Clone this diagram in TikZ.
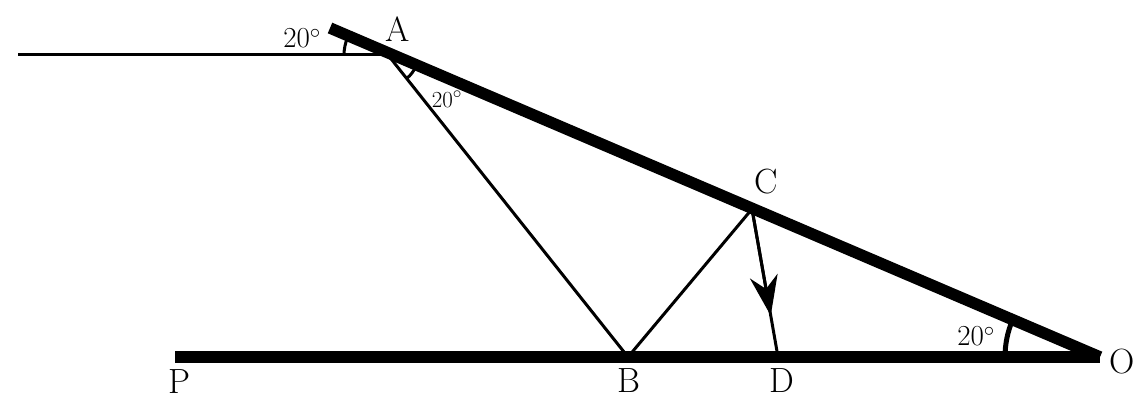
\documentclass[tikz,border=0pt]{standalone}
\usepackage{fontspec}
\usetikzlibrary{arrows.meta,calc}
\begin{document}
\begin{tikzpicture}[x=1pt,y=-1pt,
  thickline/.style={line width=11.5pt},
  thinline/.style={line width=3pt},
  lbl/.style={font=\fontsize{35}{37}\selectfont, inner sep=0pt},
  anglbl/.style={font=\fontsize{29}{31}\selectfont, inner sep=0pt},
  smallang/.style={font=\fontsize{23}{25}\selectfont, inner sep=0pt}]
\useasboundingbox (0,0) rectangle (1145,406);
\coordinate (O) at (1100,357);
\coordinate (T) at (330,28);
\coordinate (A) at (388,55);
\coordinate (L) at (18,55);
\coordinate (P) at (175,357);
\coordinate (B) at (628,357);
\coordinate (C) at (752,209);
\coordinate (D) at (778,357);
\coordinate (M) at ($(C)!0.72!(D)$);
% thin lines
\draw[thinline] (L) -- (A);
\draw[thinline] (A) -- (B) -- (C);
\draw[thinline] (C) -- (D);
\draw[thinline, -{Stealth[length=40pt,width=28pt,inset=13pt]}] (C) -- (M);
% thick lines
\draw[thickline] (P) -- (O);
\draw[thickline] (T) -- (O);
% angle marks
\draw[line width=3pt] ($(A)+(180:44)$) arc[start angle=180, end angle=203, radius=44];
\draw[line width=3pt] ($(A)+(23:30)$) arc[start angle=23, end angle=51, radius=30];
\draw[line width=5pt] ($(O)+(180:95)$) arc[start angle=180, end angle=203, radius=95];
% labels
\node[lbl] (lA) at (398,29) {A};
\node[lbl] (lC) at (766,182) {C};
\node[lbl] (lB) at (629,381) {B};
\node[lbl] (lD) at (782,381) {D};
\node[lbl] (lP) at (179,382) {P};
\node[lbl] (lO) at (1122,362) {O};
\node[anglbl] (a1) at (302,38) {20$^\circ$};
\node[smallang] (a2) at (447,99) {20$^\circ$};
\node[anglbl] (a3) at (976,336) {20$^\circ$};
\end{tikzpicture}
\end{document}
